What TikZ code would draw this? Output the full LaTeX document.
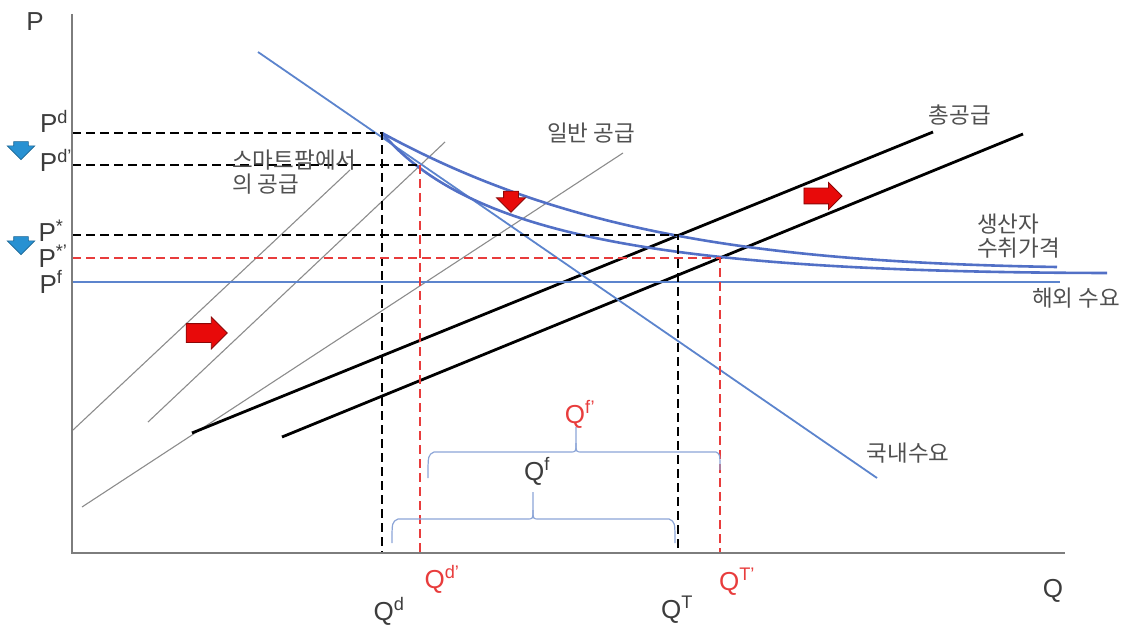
\documentclass[tikz,border=0pt]{standalone}
\usepackage{fontspec}
\setmainfont{Liberation Sans}
\newfontfamily\kr{Noto Sans CJK KR}
\usetikzlibrary{shapes.arrows}

\definecolor{curveblue}{RGB}{82,112,198}
\definecolor{lineblue}{RGB}{92,132,205}
\definecolor{dashred}{RGB}{232,60,60}
\definecolor{supgray}{RGB}{140,140,140}
\definecolor{axisgray}{RGB}{125,125,125}
\definecolor{bracecol}{RGB}{140,165,215}
\definecolor{arrblue}{RGB}{40,145,210}
\definecolor{arrred}{RGB}{232,10,10}
\definecolor{txtgray}{RGB}{60,60,60}
\definecolor{notegray}{RGB}{80,80,80}

\begin{document}
\begin{tikzpicture}[x=1pt, y=-1pt,
  axis/.style={draw=axisgray, line width=2pt},
  gensup/.style={draw=supgray, line width=1.1pt},
  totsup/.style={draw=black, line width=2.8pt},
  dem/.style={draw=lineblue, line width=1.8pt},
  curv/.style={draw=curveblue, line width=2.6pt},
  dashk/.style={draw=black, line width=1.8pt, dash pattern=on 9pt off 5pt},
  dashr/.style={draw=dashred, line width=1.8pt, dash pattern=on 9pt off 5pt},
  brc/.style={draw=bracecol, line width=1.2pt},
  plab/.style={font=\fontsize{26}{28}\selectfont, text=txtgray, inner sep=0pt, text height=18pt, text depth=0pt},
  qred/.style={plab, text=dashred},
  note/.style={font=\kr\fontsize{22.5}{24}\selectfont, text=notegray, inner sep=0pt, align=left},
  redarr/.style={single arrow, fill=arrred, draw=arrred!60!black, line width=0.8pt, inner xsep=0pt},
  bluearr/.style={single arrow, fill=arrblue, draw=arrblue!70!black, line width=0.6pt, rotate=-90,
    inner xsep=0pt, inner ysep=7pt, minimum height=18pt, single arrow head extend=6.5pt}
]
\useasboundingbox (0,0) rectangle (1130,631);

% equilibrium points
\coordinate (O) at (72,553);
\coordinate (Ed) at (382,133);
\coordinate (Ed2) at (420,165);
\coordinate (Es) at (678,235);
\coordinate (Es2) at (720,258);

% general supply (thin gray)
\coordinate (g1a) at (73,430);  \coordinate (g1b) at (350,170);
\coordinate (g2a) at (148,422); \coordinate (g2b) at (445,142);
\coordinate (g3a) at (82,507);  \coordinate (g3b) at (623,153);
\draw[gensup] (g1a) -- (g1b);
\draw[gensup] (g2a) -- (g2b);
\draw[gensup] (g3a) -- (g3b);

% total supply
\coordinate (s1a) at (192,433);  \coordinate (s1b) at (933,132);
\coordinate (s2a) at (282,437);  \coordinate (s2b) at (1023,134);
\draw[totsup] (s1a) -- (s1b);
\draw[totsup] (s2a) -- (s2b);

% foreign demand and domestic demand
\coordinate (pf0) at (72,282);  \coordinate (pf1) at (1060,282);
\draw[dem] (pf0) -- (pf1);
\coordinate (dd0) at (258,52);  \coordinate (dd1) at (877,478);
\draw[dem] (dd0) -- (dd1);

% producer price curves
\coordinate (c1) at (1057,267);
\coordinate (c2) at (1107,273);
\draw[curv] (Ed) .. controls (560,230) and (750,262) .. (c1);
\draw[curv] (Ed) .. controls (470,235) and (660,272) .. (c2);

% dashed guides
\draw[dashk] (O |- Ed) -- (Ed) -- (Ed |- O);
\draw[dashk] (O |- Ed2) -- (Ed2);
\draw[dashr] (Ed2) -- (Ed2 |- O);
\draw[dashk] (O |- Es) -- (Es) -- (Es |- O);
\draw[dashr] (O |- Es2) -- (Es2) -- (Es2 |- O);

% axes
\coordinate (ytop) at (72,14);
\coordinate (xend) at (1065,553);
\draw[axis] (ytop) -- (O) -- (xend);

% braces
\coordinate (b1l) at (392,543); \coordinate (b1t) at (533,492); \coordinate (b1r) at (675,543);
\draw[brc] (b1l) .. controls (392,522) .. (398,519) -- (527,519) .. controls (533,519) .. (533,510) -- (b1t);
\draw[brc] (533,510) .. controls (533,519) .. (539,519) -- (669,519) .. controls (675,522) .. (b1r);
\coordinate (b2l) at (428,478); \coordinate (b2t) at (576,427); \coordinate (b2r) at (720,470);
\draw[brc] (b2l) .. controls (428,455) .. (434,452) -- (570,452) .. controls (576,452) .. (576,443) -- (b2t);
\draw[brc] (576,443) .. controls (576,452) .. (582,452) -- (716,452) .. controls (720,454) .. (b2r);

% shift arrows
\node[redarr, inner ysep=9pt, minimum height=41pt, single arrow head extend=6.5pt] (ar1) at (202,333) {};
\node[redarr, inner ysep=7.5pt, minimum height=38pt, single arrow head extend=5.5pt] (ar2) at (819,196) {};
\node[redarr, rotate=-90, inner ysep=7pt, minimum height=21pt, single arrow head extend=7pt] (ar3) at (511,198) {};
\node[bluearr] (bd1) at (21,147) {};
\node[bluearr] (bd2) at (21,242) {};

% axis labels
\node[plab] (lp) at (35,22) {P};
\node[plab] (lq) at (1053,588) {Q};
\node[plab] (lpd) at (54,124) {P\textsuperscript{d}};
\node[plab] (lpd2) at (56,163) {P\textsuperscript{d'}};
\node[plab] (lps) at (51,233) {P\textsuperscript{*}};
\node[plab] (lps2) at (53,258) {P\textsuperscript{*'}};
\node[plab] (lpf) at (51,284) {P\textsuperscript{f}};
\node[plab] (lqd) at (389,611) {Q\textsuperscript{d}};
\node[qred] (lqd2) at (442,579) {Q\textsuperscript{d'}};
\node[plab] (lqt) at (677,609) {Q\textsuperscript{T}};
\node[qred] (lqt2) at (737,581) {Q\textsuperscript{T'}};
\node[qred] (lqf2) at (580,414) {Q\textsuperscript{f'}};
\node[plab] (lqf) at (537,471) {Q\textsuperscript{f}};

% curve labels
\node[note, anchor=north west] (smart) at (232,150) {스마트팜에서\\의 공급};
\node[note] (general) at (591,133) {일반 공급};
\node[note] (total) at (960,115) {총공급};
\node[note, anchor=north west] (recv) at (977,214) {생산자\\수취가격};
\node[note] (foreign) at (1076,298) {해외 수요};
\node[note] (domestic) at (908,453) {국내수요};

\end{tikzpicture}
\end{document}
